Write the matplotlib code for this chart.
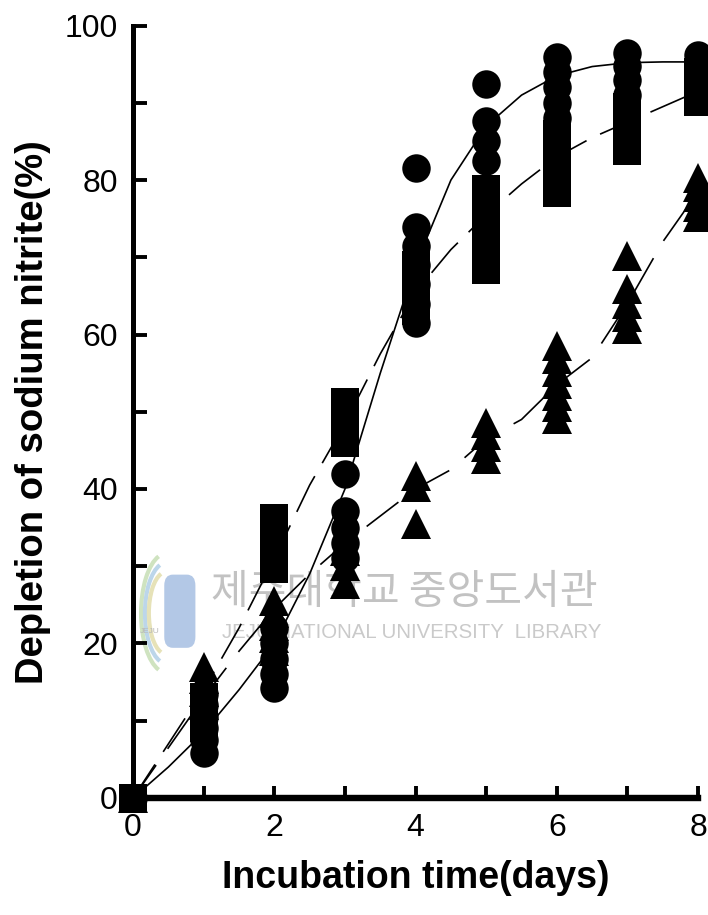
import numpy as np
import matplotlib
matplotlib.use("Agg")
import matplotlib.pyplot as plt
from matplotlib.patches import FancyBboxPatch, Arc

plt.rcParams['font.family'] = ['Liberation Sans', 'DejaVu Sans']

# ---- measured depletion (%) : replicates at each sampling day ----
days = [0, 1, 2, 3, 4, 5, 6, 7, 8]

circle_vals = [
    [0],
    [5.8, 7.5, 9, 10.5, 12, 13.5],
    [14.2, 16, 18, 20, 22],
    [31, 33, 35, 37.1, 42],
    [61.5, 64, 66.5, 69, 71.5, 73.9, 81.5],
    [82.5, 85, 87.6, 92.4],
    [88, 90, 92, 94, 96],
    [91, 93, 94.8, 96.5],
    [93, 94.8, 96.2],
]

square_vals = [
    [0],
    [9, 11, 13],
    [29.6, 31.5, 33.5, 35, 36.2],
    [46, 47.8, 49.6, 51.3],
    [63, 65, 67, 69],
    [68.4, 70.5, 72.5, 74.5, 76.5, 78.9],
    [78.3, 80, 82, 84, 86],
    [83.8, 85.5, 87.5, 89.5],
    [90.1, 92, 94],
]

triangle_vals = [
    [0],
    [12, 13.7, 15.4, 17],
    [19, 20.7, 22.3, 24, 25.5],
    [27.7, 30, 32],
    [35.5, 40.2, 41.7],
    [43.9, 45.5, 47, 48.6],
    [49.1, 50.6, 52.1, 53.6, 55.1, 56.8, 58.5],
    [60.7, 62.3, 63.9, 65.9, 70.2],
    [75.2, 76.5, 77.8, 79.1, 80.3],
]

# ---- fitted curves (half-day steps) ----
fit_days = [0, 0.5, 1, 1.5, 2, 2.5, 3, 3.5, 4, 4.5, 5, 5.5, 6, 6.5, 7, 7.5, 8]
circle_fit = [0, 4, 8.5, 14, 20, 29, 40, 55, 69, 80, 87, 91, 93.5, 94.7, 95.2, 95.3, 95.3]
square_fit = [0, 7, 14, 22, 31, 40.5, 48.5, 57.5, 65.5, 71, 75.5, 79.5, 83, 85.5, 87.5, 89.5, 91.5]
triangle_fit = [0, 6.5, 13, 19, 24.5, 29, 33, 36.5, 40, 42.5, 46.5, 49, 53.5, 57, 64, 72, 78.5]

x_ticks = [0, 2, 4, 6, 8]
y_ticks = [0, 20, 40, 60, 80, 100]


def flatten(vals):
    xs, ys = [], []
    for d, col in zip(days, vals):
        xs += [d] * len(col)
        ys += col
    return xs, ys


fig = plt.figure(figsize=(7.08, 9.15), dpi=100)
ax = fig.add_axes([0.188, 0.128, 0.798, 0.844])

# fitted lines
ax.plot(fit_days, circle_fit, color='black', lw=1.2, zorder=2)
ax.plot(fit_days, square_fit, color='black', lw=1.2, dashes=(24, 9), zorder=2)
ax.plot(fit_days, triangle_fit, color='black', lw=1.2, dashes=(24, 12), zorder=2)

# replicate markers
for vals, mk, ms in [(triangle_vals, '^', 21), (square_vals, 's', 19.5), (circle_vals, 'o', 20.5)]:
    xs, ys = flatten(vals)
    ax.plot(xs, ys, linestyle='none', marker=mk, markersize=ms,
            color='black', markeredgewidth=0, clip_on=False, zorder=3)

ax.set_xlim(0, 8)
ax.set_ylim(0, 100)

ax.set_xticks(x_ticks)
ax.set_xticks(range(0, 9), minor=True)
ax.set_yticks(y_ticks)
ax.set_yticks(range(0, 101, 10), minor=True)
ax.tick_params(axis='both', which='both', direction='in', width=2.8, color='black')
ax.tick_params(axis='y', which='both', length=10)
ax.tick_params(axis='x', which='both', length=9)
ax.tick_params(axis='y', which='major', labelsize=23, pad=11)
ax.tick_params(axis='x', which='major', labelsize=23, pad=11)

for side in ['top', 'right']:
    ax.spines[side].set_visible(False)
ax.spines['left'].set_linewidth(3.6)
ax.spines['bottom'].set_linewidth(4.6)

ax.set_xlabel('Incubation time(days)', fontsize=27, fontweight='bold', labelpad=12)
ax.set_ylabel('Depletion of sodium nitrite(%)', fontsize=27.5, fontweight='bold', labelpad=10)

# library watermark behind the data
ax.text(0.571, 0.352, '제주대학교 중앙도서관', transform=fig.transFigure,
        family=['Noto Sans CJK KR', 'DejaVu Sans'], fontsize=29.5,
        color='#c2c2c2', ha='center', va='center', zorder=1)
ax.text(0.582, 0.309, 'JEJU NATIONAL UNIVERSITY  LIBRARY', transform=fig.transFigure,
        fontsize=14.7, color='#cacaca', ha='center', va='center', zorder=1)
logo = FancyBboxPatch((0.232, 0.292), 0.044, 0.08, boxstyle='round,pad=0,rounding_size=0.012',
                      transform=fig.transFigure, facecolor='#b3c8e6', edgecolor='none', zorder=1)
ax.add_artist(logo)
for w, col in [(0.13, '#cfe3c0'), (0.11, '#bcd6ea'), (0.09, '#e6e2b8')]:
    arc = Arc((0.235, 0.33), w * 0.55, w, theta1=100, theta2=260, lw=3,
              color=col, transform=fig.transFigure, zorder=1)
    ax.add_artist(arc)
ax.text(0.212, 0.31, 'JEJU', transform=fig.transFigure, fontsize=6,
        color='#b8b8b8', ha='center', va='center', zorder=1)

fig.savefig('out.png', dpi=100)
